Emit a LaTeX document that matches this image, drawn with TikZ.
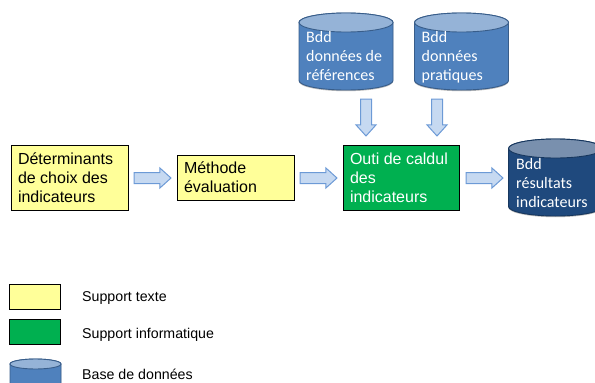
\documentclass[tikz,border=0pt]{standalone}
\usepackage{fontspec}
\setmainfont{Liberation Sans}
\newfontfamily\bddfont{Carlito}
\usetikzlibrary{shapes.arrows, shadows}
\definecolor{textyellow}{HTML}{FFFF99}
\definecolor{infogreen}{HTML}{00B050}
\definecolor{bddblue}{HTML}{4F81BD}
\definecolor{bddtop}{HTML}{95B3D7}
\definecolor{bddline}{HTML}{385D8A}
\definecolor{resblue}{HTML}{1F497D}
\definecolor{restop}{HTML}{7990AE}
\definecolor{resline}{HTML}{17375E}
\definecolor{arrowfill}{HTML}{C6D9F1}
\definecolor{arrowline}{HTML}{6C9AD6}

% body and lid of a database, drawn on a named node: name, half width, lid radius, colours
\newcommand{\bddcyl}[6]{
    \draw[draw=#6, fill=#4, line width=0.9pt, boxshadow]
        ([yshift=-#3]#1.north west) -- ([yshift=#3]#1.south west)
        arc[start angle=180, end angle=360, x radius=#2, y radius=#3]
        -- ([yshift=-#3]#1.north east)
        arc[start angle=0, end angle=180, x radius=#2, y radius=#3] -- cycle;
    \draw[draw=#6, fill=#5, line width=0.9pt]
        ([yshift=-#3]#1.north) ellipse[x radius=#2, y radius=#3];
}

\begin{document}
\begin{tikzpicture}[x=1pt, y=-1pt,
    boxshadow/.style={drop shadow={shadow xshift=0pt, shadow yshift=-1.2pt, fill=black!45, opacity=0.6}},
    support/.style={rectangle, draw=black, line width=0.8pt, inner sep=0pt, outer sep=0pt, boxshadow},
    textbox/.style={support, fill=textyellow, font=\fontsize{16}{19}\selectfont, align=left},
    infobox/.style={support, fill=infogreen, text=white, font=\fontsize{16}{19}\selectfont, align=left},
    bdd/.style={rectangle, inner sep=0pt, outer sep=0pt, minimum width=94pt, minimum height=77pt},
    bddtext/.style={text=white, font=\bddfont\fontsize{16}{19}\selectfont, align=left, anchor=north west, inner sep=0pt},
    flow/.style={single arrow, draw=arrowline, fill=arrowfill, line width=1pt, inner sep=0pt, outer sep=0pt,
        minimum width=19pt, minimum height=37pt, single arrow head extend=4.5pt,
        single arrow tip angle=84, single arrow head indent=0pt, anchor=tail},
    legend/.style={font=\fontsize{14.2}{17}\selectfont, anchor=west, inner sep=0pt}]
    \useasboundingbox (0,0) rectangle (595,383);

    % Main chain
    \node[textbox, minimum width=117pt, minimum height=65pt] (det) at (69.5,177.5) {\makebox[103pt][l]{Déterminants}\\de choix des\\indicateurs};
    \node[textbox, minimum width=117pt, minimum height=45pt] (meth) at (235.5,177.5) {\makebox[103pt][l]{Méthode}\\évaluation};
    \node[infobox, minimum width=116pt, minimum height=65pt] (outil) at (401,177.5) {\makebox[102pt][l]{Outi de caldul}\\des\\indicateurs};

    % Databases
    \node[bdd] (ref) at (346,51.5) {};
    \node[bdd] (prat) at (461.5,51.5) {};
    \node[bdd] (res) at (555.5,177.5) {};
    \bddcyl{ref}{47pt}{9.5pt}{bddblue}{bddtop}{bddline}
    \bddcyl{prat}{47pt}{9.5pt}{bddblue}{bddtop}{bddline}
    \bddcyl{res}{47pt}{9.5pt}{resblue}{restop}{resline}
    \node[bddtext] (reftxt) at (306,31.5) {Bdd\\données de\\références};
    \node[bddtext] (pratxt) at (421.5,31.5) {Bdd\\données\\pratiques};
    \node[bddtext] (restxt) at (516,158) {Bdd\\résultats\\indicateurs};

    % Flow arrows
    \node[flow] (a1) at (134,178) {\rule{0pt}{10pt}};
    \node[flow] (a2) at (300,178) {\rule{0pt}{10pt}};
    \node[flow] (a3) at (466,178) {\rule{0pt}{10pt}};
    \node[flow, shape border rotate=270] (a4) at (366,99) {\rule{10pt}{0pt}};
    \node[flow, shape border rotate=270] (a5) at (437,99) {\rule{10pt}{0pt}};

    % Legend
    \node[support, fill=textyellow, minimum width=51pt, minimum height=25pt] (legtext) at (34.5,296.5) {};
    \node[support, fill=infogreen, minimum width=51pt, minimum height=25pt] (leginfo) at (34.5,331.5) {};
    \node[bdd, minimum width=51pt, minimum height=52pt] (legbdd) at (35.5,385) {};
    \bddcyl{legbdd}{25.5pt}{5pt}{bddblue}{bddtop}{bddline}
    \node[legend] (lt) at (82,298.5) {Support texte};
    \node[legend] (li) at (82,334.5) {Support informatique};
    \node[legend] (lb) at (82,374.5) {Base de données};
\end{tikzpicture}
\end{document}
